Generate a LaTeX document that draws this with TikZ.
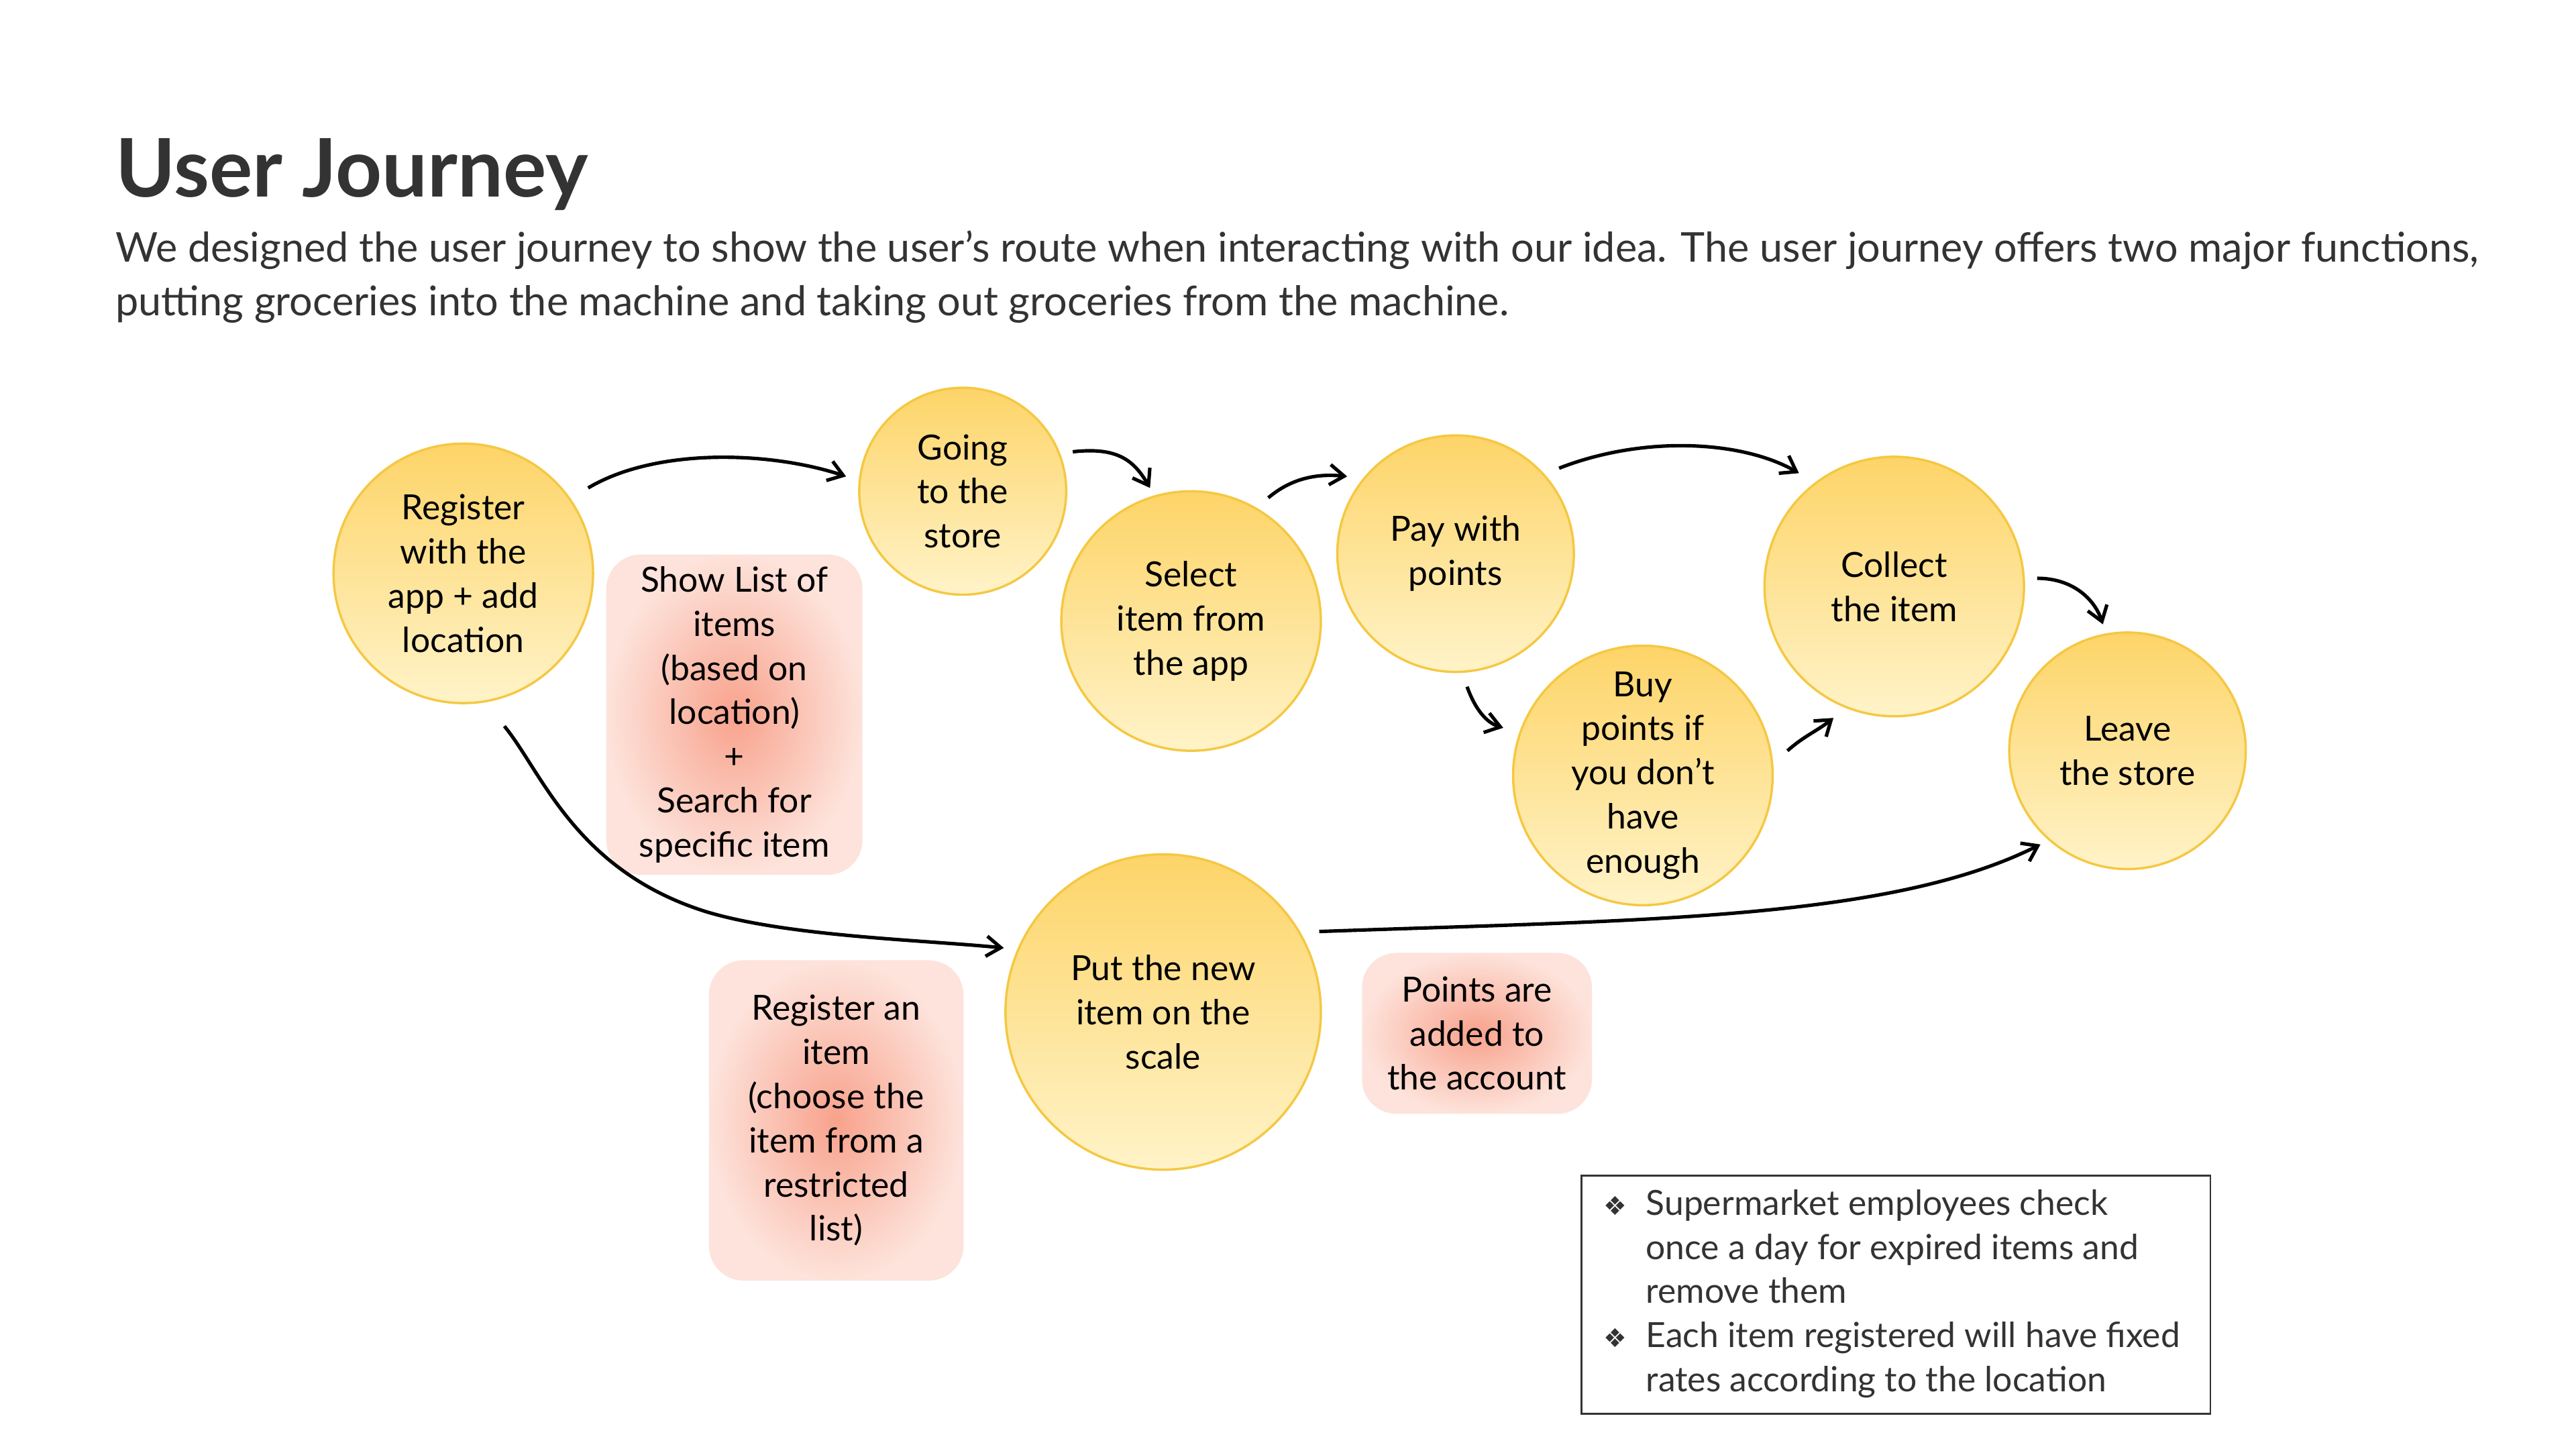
\documentclass[tikz,border=0pt]{standalone}
\usepackage{fontspec}
\usepackage{array}
\setmainfont{Lato}
\newfontfamily\dejavu{DejaVu Sans}
\usetikzlibrary{arrows.meta}
\definecolor{ink}{HTML}{333333}
\definecolor{sunTop}{HTML}{FDD468}
\definecolor{sunBot}{HTML}{FFF3C8}
\definecolor{sunLine}{HTML}{F5C842}
\definecolor{peachIn}{HTML}{F8A28C}
\definecolor{peachOut}{HTML}{FDE3DB}
\begin{document}
\begin{tikzpicture}[x=0.02cm, y=-0.02cm, >={Straight Barb[length=5pt,width=7pt]}]

    % estilos
    \tikzstyle{stage}=[circle, draw=sunLine, line width=0.8pt, inner sep=0pt, top color=sunTop, bottom color=sunBot, align=center, font=\fontsize{12}{15.3}\selectfont, text=black]
    \tikzstyle{hint}=[rounded corners=12pt, inner color=peachIn, outer color=peachOut, align=center, font=\fontsize{12}{15.3}\selectfont, text=black]
    \tikzstyle{route}=[->, line width=1.2pt]

    \useasboundingbox[fill=white] (0,0) rectangle (1568,882);

    % titulo
    \node[anchor=base west, inner sep=0pt, font=\fontsize{28}{34}\bfseries, text=ink] (title) at (70,120) {User Journey};
    \node[anchor=north west, align=left, inner sep=0pt, font=\fontsize{14.2}{18.7}\selectfont, text=ink] (intro) at (70,140)
        {We designed the user journey to show the user's route when interacting with our idea. The user journey offers two major functions,\\
         putting groceries into the machine and taking out groceries from the machine.};

    % etapas
    \node[stage, minimum size=3.16cm] (reg) at (282,349) {Register\\with the\\app + add\\location};
    \node[stage, minimum size=2.52cm] (going) at (586,299) {Going\\to the\\store};
    \node[stage, minimum size=3.16cm] (select) at (725,378) {Select\\item from\\the app};
    \node[stage, minimum size=2.88cm] (pay) at (886,337) {Pay with\\points};
    \node[stage, minimum size=3.16cm] (buy) at (1000,472) {Buy\\points if\\you don’t\\have\\enough};
    \node[stage, minimum size=3.16cm] (collect) at (1153,357) {Collect\\the item};
    \node[stage, minimum size=2.88cm] (leave) at (1295,457) {Leave\\the store};
    \node[stage, minimum size=3.84cm] (put) at (708,616) {Put the new\\item on the\\scale};

    % notas
    \node[hint, minimum width=3.12cm, minimum height=3.9cm] (showlist) at (447,435) {Show List of\\items\\(based on\\location)\\+\\Search for\\specific item};
    \node[hint, minimum width=3.1cm, minimum height=3.9cm] (regitem) at (509,682) {Register an\\item\\(choose the\\item from a\\restricted\\list)};
    \node[hint, minimum width=2.8cm, minimum height=1.96cm] (points) at (899,629) {Points are\\added to\\the account};

    % pontas das setas
    \coordinate (a1) at (358,297); \coordinate (b1) at (515,290);
    \coordinate (a2) at (653,275); \coordinate (b2) at (700,297);
    \coordinate (a3) at (772,303); \coordinate (b3) at (820,290);
    \coordinate (a4) at (949,285); \coordinate (b4) at (1095,288);
    \coordinate (a5) at (893,418); \coordinate (b5) at (915,443);
    \coordinate (a6) at (1088,457); \coordinate (b6) at (1116,437);
    \coordinate (a7) at (1240,352); \coordinate (b7) at (1280,380);
    \coordinate (a8) at (307,442); \coordinate (b8) at (611,577);
    \coordinate (a9) at (803,567); \coordinate (b9) at (1242,514);

    % setas
    \draw[route] (a1) .. controls (400,272) and (470,275) .. (b1);
    \draw[route] (a2) .. controls (680,272) and (690,280) .. (b2);
    \draw[route] (a3) .. controls (785,292) and (800,288) .. (b3);
    \draw[route] (a4) .. controls (1000,265) and (1060,268) .. (b4);
    \draw[route] (a5) .. controls (898,432) and (905,440) .. (b5);
    \draw[route] (a6) .. controls (1098,448) and (1106,445) .. (b6);
    \draw[route] (a7) .. controls (1262,352) and (1275,365) .. (b7);
    \draw[route] (a8) .. controls (330,470) and (350,530) .. (430,555) .. controls (480,570) and (560,572) .. (b8);
    \draw[route] (a9) .. controls (1000,560) and (1150,560) .. (b9);

    % observacoes
    \node[draw=ink, line width=0.6pt, rectangle, anchor=north west, minimum width=7.66cm, minimum height=2.86cm, inner sep=3pt, font=\fontsize{12}{15.3}\selectfont, text=ink] (memo) at (962,715)
        {\begin{tabular}{@{}l@{\hspace{0.55em}}>{\raggedright\arraybackslash}p{6.6cm}@{}}
         {\dejavu\small ❖} & Supermarket employees check once a day for expired items and remove them\\
         {\dejavu\small ❖} & Each item registered will have fixed rates according to the location
         \end{tabular}};

\end{tikzpicture}
\end{document}
